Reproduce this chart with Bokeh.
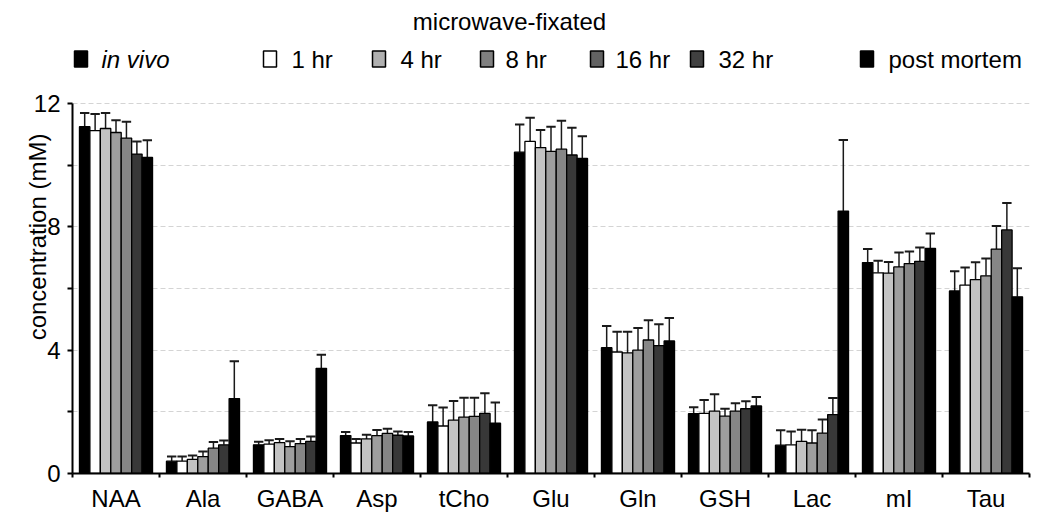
from bokeh.plotting import figure
from bokeh.models import Range1d, FixedTicker
from bokeh.embed import file_html
from bokeh.resources import INLINE
from bokeh.core.properties import value

FONT = "Liberation Sans"
FS = "24px"

categories = ["NAA", "Ala", "GABA", "Asp", "tCho", "Glu", "Gln", "GSH", "Lac", "mI", "Tau"]

in_vivo = [11.25, 0.40, 0.93, 1.23, 1.67, 10.42, 4.08, 1.94, 0.92, 6.84, 5.92]
in_vivo_err = [0.44, 0.15, 0.10, 0.12, 0.54, 0.90, 0.70, 0.21, 0.48, 0.44, 0.64]
hr1 = [11.12, 0.40, 0.95, 0.99, 1.54, 10.77, 3.94, 1.95, 0.93, 6.51, 6.11]
hr1_err = [0.54, 0.15, 0.13, 0.13, 0.60, 0.77, 0.66, 0.43, 0.43, 0.39, 0.57]
hr4 = [11.19, 0.46, 1.00, 1.12, 1.73, 10.57, 3.91, 2.02, 1.04, 6.50, 6.29]
hr4_err = [0.50, 0.12, 0.12, 0.14, 0.62, 0.57, 0.69, 0.55, 0.38, 0.36, 0.56]
hr8 = [11.06, 0.55, 0.87, 1.23, 1.83, 10.45, 4.00, 1.86, 0.99, 6.70, 6.41]
hr8_err = [0.40, 0.16, 0.18, 0.18, 0.63, 0.80, 0.72, 0.24, 0.41, 0.47, 0.56]
hr16 = [10.88, 0.82, 0.97, 1.30, 1.85, 10.52, 4.33, 2.02, 1.31, 6.81, 7.28]
hr16_err = [0.53, 0.20, 0.15, 0.15, 0.61, 0.92, 0.64, 0.26, 0.44, 0.39, 0.75]
hr32 = [10.36, 0.93, 1.04, 1.24, 1.95, 10.33, 4.15, 2.10, 1.91, 6.88, 7.90]
hr32_err = [0.41, 0.14, 0.16, 0.12, 0.65, 0.88, 0.69, 0.24, 0.54, 0.45, 0.87]
post_mortem = [10.25, 2.43, 3.41, 1.22, 1.63, 10.22, 4.30, 2.19, 8.51, 7.30, 5.73]
post_mortem_err = [0.56, 1.21, 0.44, 0.13, 0.67, 0.72, 0.74, 0.29, 2.31, 0.48, 0.93]

series_names = ["in vivo", "1 hr", "4 hr", "8 hr", "16 hr", "32 hr", "post mortem"]
series_vals = [in_vivo, hr1, hr4, hr8, hr16, hr32, post_mortem]
series_errs = [in_vivo_err, hr1_err, hr4_err, hr8_err, hr16_err, hr32_err, post_mortem_err]
bar_colors = ["#000000", "#ffffff", "#c3c3c3", "#9e9e9e", "#868686", "#383838", "#000000"]
legend_colors = ["#000000", "#ffffff", "#b0b0b0", "#808080", "#626262", "#404040", "#000000"]
legend_title = "microwave-fixated"

# ---------- layout geometry (page pixels) ----------
W, H = 1048, 515
FRAME_L, FRAME_R = 72, 1029
FRAME_B = 473
Y_TOP_PX = 103          # pixel row of y = 12
Y_MAX = 12
NCAT = len(categories)
px_per_unit = (FRAME_B - Y_TOP_PX) / Y_MAX
y_end = FRAME_B / px_per_unit          # range extends up to the top of the canvas (legend area)
px_per_cat = (FRAME_R - FRAME_L) / NCAT


def lx(px):
    return (px - FRAME_L) / px_per_cat


def ly(py):
    return (FRAME_B - py) / px_per_unit


p = figure(width=W, height=H, x_range=Range1d(0, NCAT), y_range=Range1d(0, y_end),
           output_backend="svg", toolbar_location=None,
           min_border_left=FRAME_L, min_border_right=W - FRAME_R,
           min_border_top=0, min_border_bottom=H - FRAME_B)
p.outline_line_color = None
p.background_fill_color = "white"
p.border_fill_color = "white"

bw = 0.12
n = len(series_vals)
for j in range(n):
    vals = series_vals[j]
    errs = series_errs[j]
    xs = [i + 0.5 + (j - (n - 1) / 2) * bw for i in range(NCAT)]
    tops = [v + e for v, e in zip(vals, errs)]
    p.segment(x0=xs, y0=vals, x1=xs, y1=tops, line_color="#1a1a1a", line_width=1.5)
    p.segment(x0=[x - bw * 0.45 for x in xs], y0=tops, x1=[x + bw * 0.45 for x in xs], y1=tops,
              line_color="#1a1a1a", line_width=2)
    p.vbar(x=xs, top=vals, bottom=0, width=bw, fill_color=bar_colors[j],
           line_color="black", line_width=1.3)

p.xgrid.visible = False
p.ygrid.grid_line_color = "#d4d4d4"
p.ygrid.grid_line_dash = "5 3"
p.ygrid.minor_grid_line_color = "#d4d4d4"
p.ygrid.minor_grid_line_dash = "5 3"

p.xaxis.ticker = FixedTicker(ticks=[i + 0.5 for i in range(NCAT)],
                             minor_ticks=list(range(NCAT + 1)))
p.xaxis.major_label_overrides = {i + 0.5: c for i, c in enumerate(categories)}
p.xaxis.major_tick_out = 0
p.xaxis.major_tick_in = 0
p.xaxis.minor_tick_out = 4
p.xaxis.minor_tick_in = 0
p.xaxis.minor_tick_line_width = 2
p.xaxis.major_label_standoff = 7

p.yaxis.ticker = FixedTicker(ticks=[0, 4, 8, 12], minor_ticks=[2, 6, 10])
p.yaxis.bounds = (0, Y_MAX)
p.yaxis.major_tick_out = 5
p.yaxis.major_tick_in = 0
p.yaxis.minor_tick_out = 5
p.yaxis.minor_tick_in = 0
p.yaxis.major_tick_line_width = 2
p.yaxis.minor_tick_line_width = 2
p.yaxis.major_label_standoff = 7
p.yaxis.axis_label = "concentration (mM)"
p.yaxis.axis_label_standoff = -20

for ax in (p.xaxis, p.yaxis):
    ax.axis_line_width = 2
    ax.axis_line_color = "black"
    ax.major_label_text_font = FONT
    ax.major_label_text_font_size = FS
    ax.major_label_text_color = "black"
    ax.axis_label_text_font = FONT
    ax.axis_label_text_font_size = FS
    ax.axis_label_text_font_style = "normal"
    ax.axis_label_text_color = "black"

# ---------- legend drawn above the plot area ----------
box_left = [74, 263, 372, 480, 590, 690, 860]
text_left = [101, 291, 400, 505, 615, 718, 888]
row_y = 58.5
for j in range(n):
    p.quad(left=[lx(box_left[j])], right=[lx(box_left[j] + 13)],
           top=[ly(row_y - 8)], bottom=[ly(row_y + 8)],
           fill_color=legend_colors[j], line_color="black", line_width=1.5)
    p.text(x=[lx(text_left[j])], y=[ly(row_y)], text=[series_names[j]], text_font=value(FONT),
           text_font_size=FS, text_baseline="middle", text_align="left", text_color="black",
           text_font_style="italic" if j == 0 else "normal")
p.text(x=[lx(509)], y=[ly(21)], text=[legend_title], text_font=value(FONT), text_font_size=FS,
       text_baseline="middle", text_align="center", text_color="black")

open("out.html", "w").write(file_html(p, INLINE))
